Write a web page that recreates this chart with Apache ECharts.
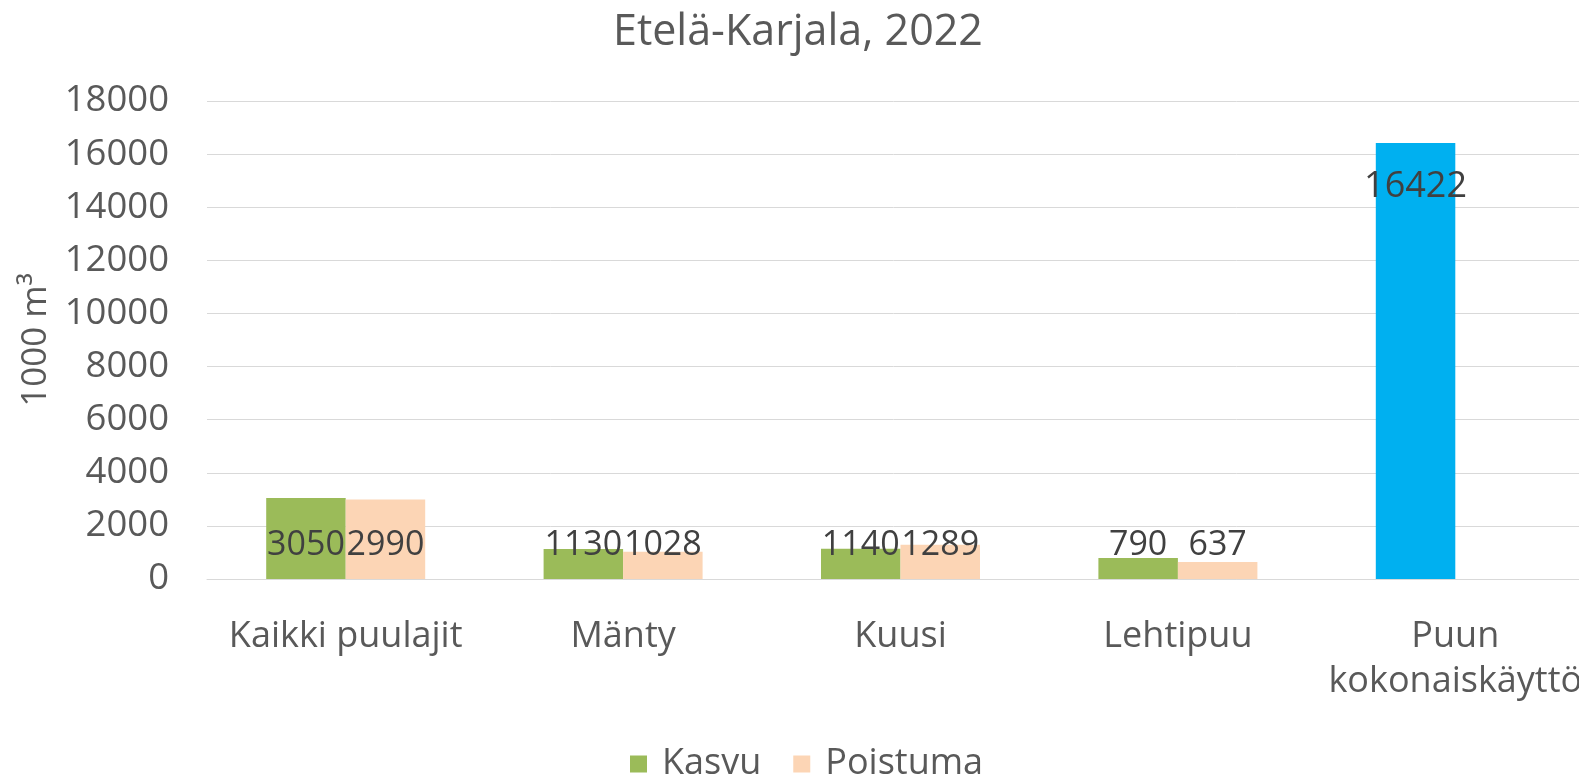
<!DOCTYPE html>
<html>
<head>
<meta charset="utf-8">
<script src="https://cdn.jsdelivr.net/npm/echarts@6/dist/echarts.min.js"></script>
<style>
  html, body { margin: 0; padding: 0; background: #fff; }
  #chart { width: 1579px; height: 774px; }
</style>
</head>
<body>
<div id="chart"></div>
<script>
const categories = ['Kaikki puulajit', 'Mänty', 'Kuusi', 'Lehtipuu', 'Puun kokonaiskäyttö']
const kasvu = [3050, 1130, 1140, 790, 16422]
const poistuma = [2990, 1028, 1289, 637, null]
const yTicks = { min: 0, max: 18000, interval: 2000 }

const font = 'Open Sans'
const chart = echarts.init(document.getElementById('chart'))

// the last Kasvu bar is drawn blue, label sits near its top
const kasvuData = kasvu.map((v, i) => {
  if (i === categories.length - 1) {
    return {
      value: v,
      itemStyle: { color: '#00B0F0' },
      label: { position: 'insideTop', distance: 26, fontSize: 36 }
    }
  }
  return v
})

const labelStyle = {
  show: true,
  position: 'insideBottom',
  distance: 17,
  color: '#404040',
  fontFamily: font,
  fontSize: 34
}

const option = {
  animation: false,
  title: {
    text: 'Etelä-Karjala, 2022',
    left: 608,
    top: 6,
    textStyle: { color: '#595959', fontFamily: font, fontSize: 43, fontWeight: 'normal' }
  },
  legend: {
    top: 741,
    left: 625,
    icon: 'rect',
    itemWidth: 17,
    itemHeight: 17,
    itemGap: 32,
    textStyle: { color: '#595959', fontFamily: font, fontSize: 36, padding: [0, 0, 0, 10] },
    data: ['Kasvu', 'Poistuma']
  },
  grid: { left: 207, right: -15, top: 101, bottom: 195, outerBoundsMode: 'none' },
  xAxis: {
    type: 'category',
    data: categories,
    axisLine: { lineStyle: { color: '#D9D9D9', width: 1 } },
    axisTick: { show: false },
    axisLabel: {
      color: '#595959',
      fontFamily: font,
      fontSize: 36,
      margin: 35,
      lineHeight: 45,
      interval: 0,
      hideOverlap: false,
      formatter: function (value) {
        return value.length > 16 ? value.replace(' ', '\n') : value
      }
    }
  },
  yAxis: {
    type: 'value',
    min: yTicks.min,
    max: yTicks.max,
    interval: yTicks.interval,
    name: '1000 m³',
    nameLocation: 'middle',
    nameGap: 148,
    nameTextStyle: { color: '#595959', fontFamily: font, fontSize: 35 },
    axisLine: { show: false },
    axisTick: { show: false },
    axisLabel: {
      color: '#595959',
      fontFamily: font,
      fontSize: 36.5,
      margin: 38,
      formatter: function (v) { return String(v) }
    },
    splitLine: { lineStyle: { color: '#D9D9D9', width: 1 } }
  },
  series: [
    {
      name: 'Kasvu',
      type: 'bar',
      barWidth: 79.5,
      barGap: '0%',
      itemStyle: { color: '#9BBB59' },
      label: labelStyle,
      data: kasvuData
    },
    {
      name: 'Poistuma',
      type: 'bar',
      barWidth: 79.5,
      itemStyle: { color: '#FCD5B5' },
      label: labelStyle,
      data: poistuma
    }
  ]
}

chart.setOption(option)
</script>
</body>
</html>
